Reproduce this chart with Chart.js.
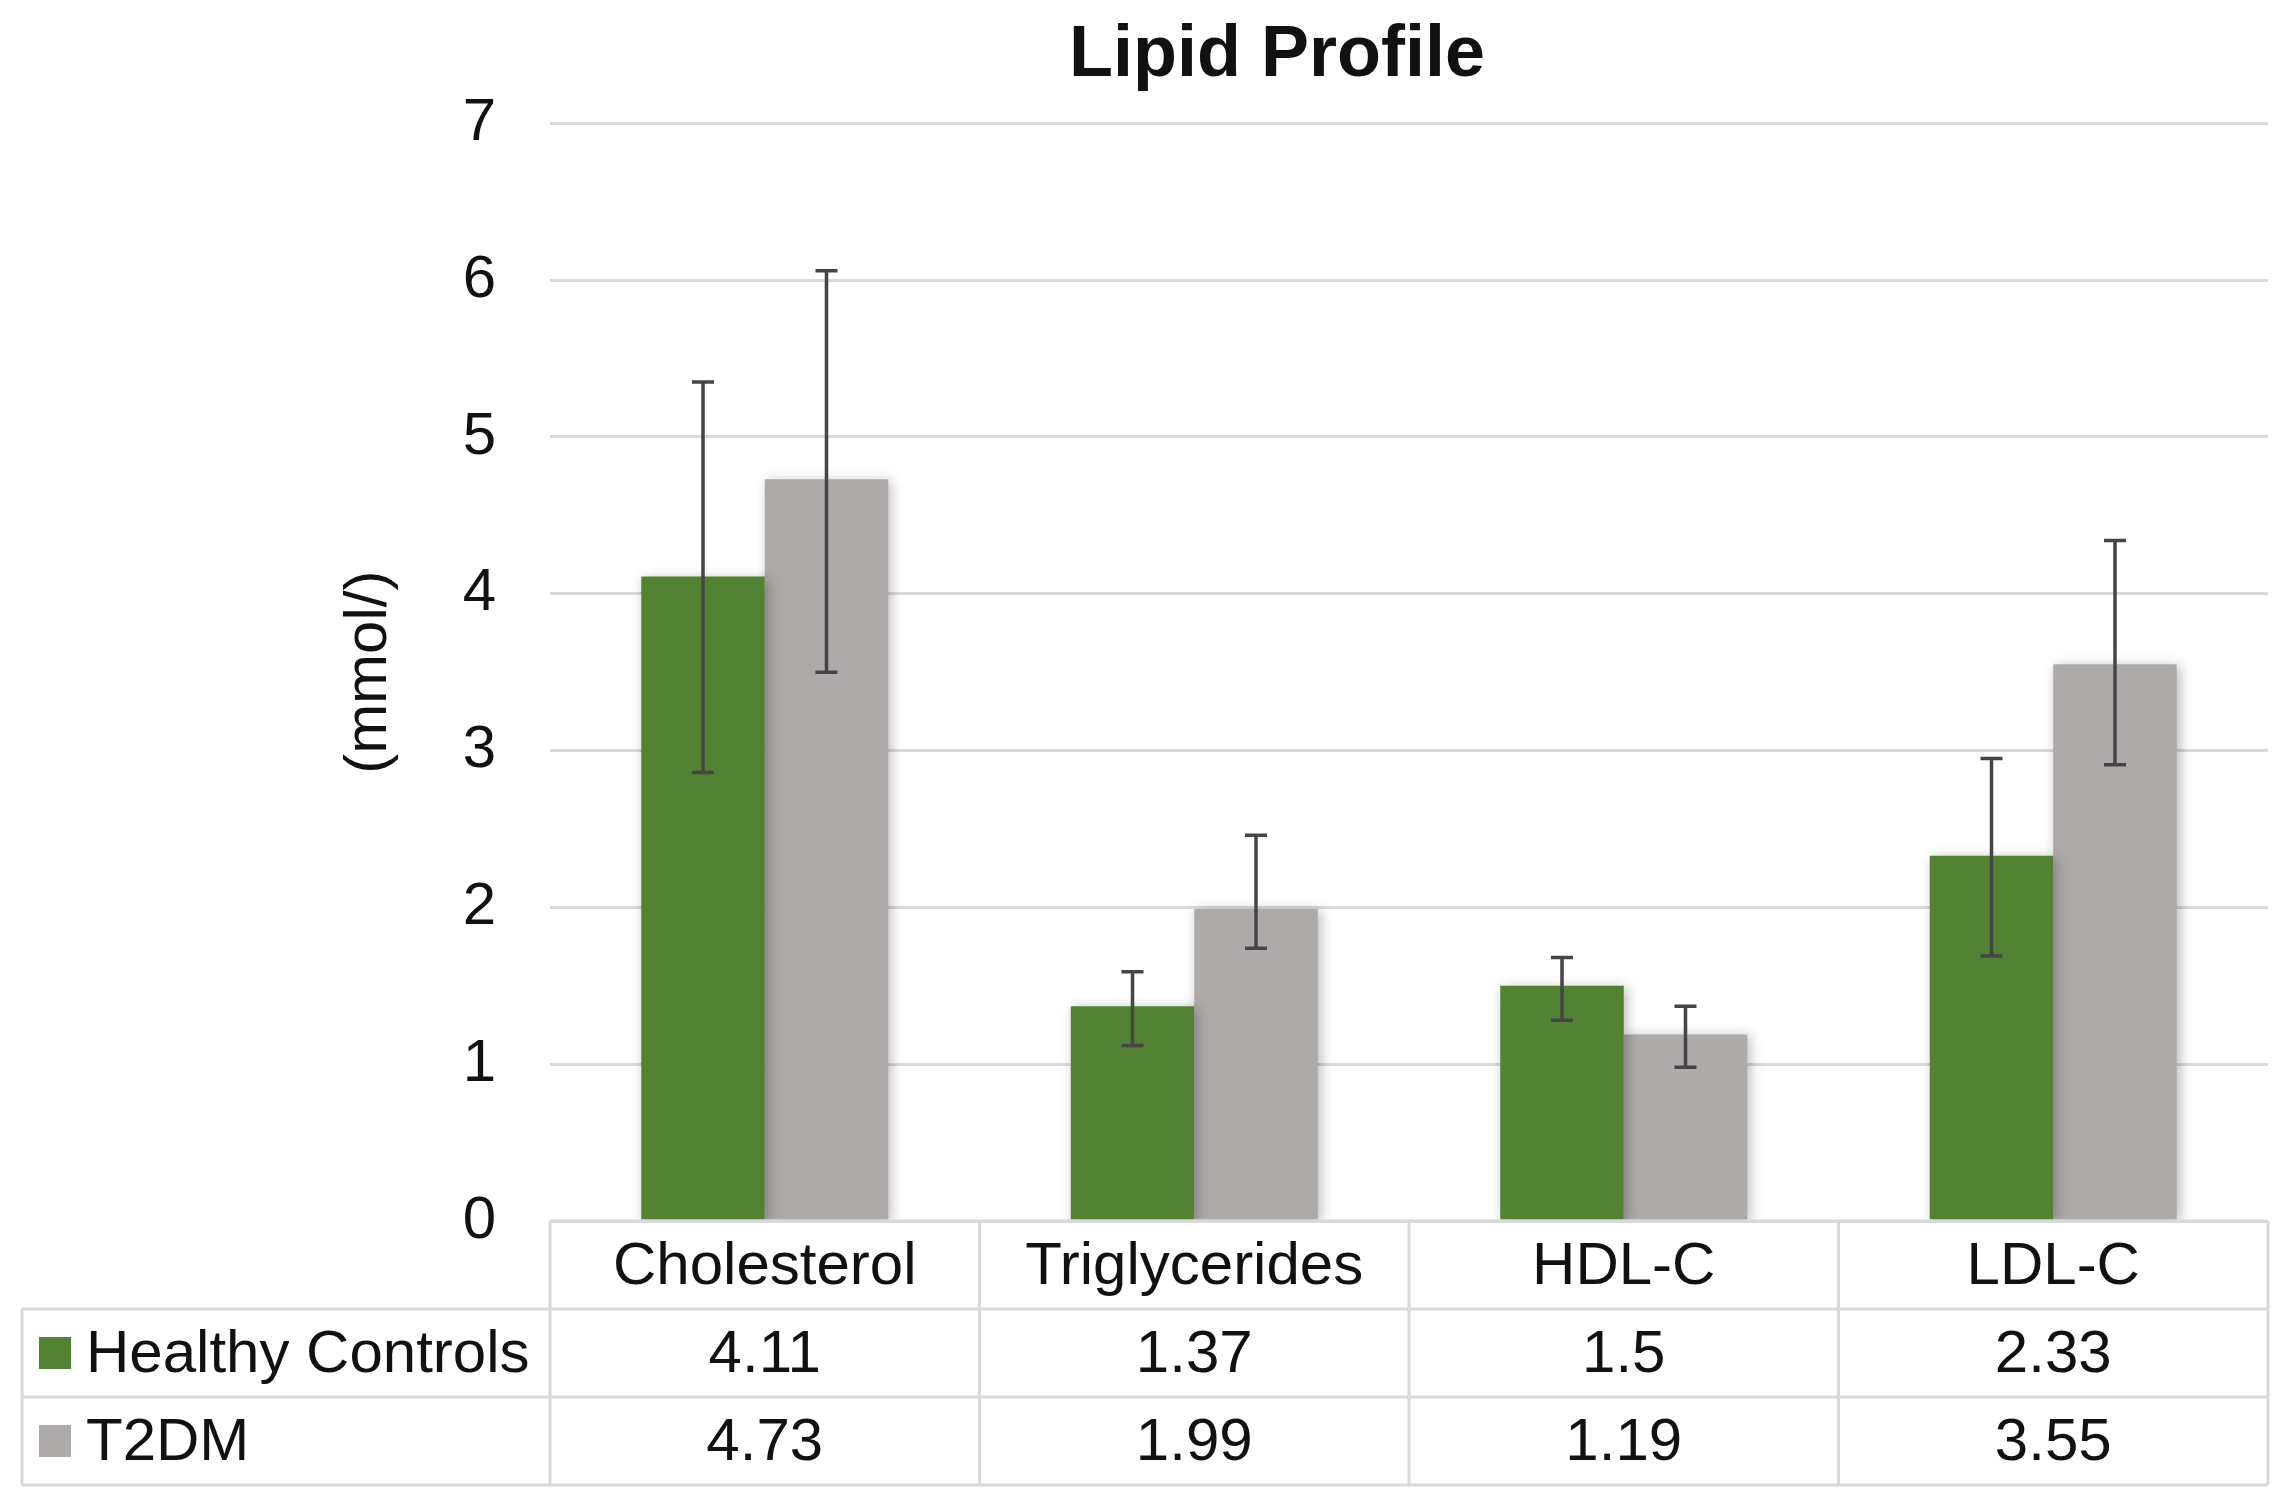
<!DOCTYPE html>
<html>
<head>
<meta charset="utf-8">
<script src="https://cdn.jsdelivr.net/npm/chart.js@4/dist/chart.umd.min.js"></script>
<style>
    body { margin: 0; background: #fff; }
    .chart-container { position: relative; width: 2287px; height: 1506px; }
</style>
</head>
<body>
<div class="chart-container">
    <canvas id="lipidChart"></canvas>
</div>
<script>
// values
const categories = ['Cholesterol', 'Triglycerides', 'HDL-C', 'LDL-C'];
const seriesNames = ['Healthy Controls', 'T2DM'];
const healthyValues = [4.11, 1.37, 1.5, 2.33];
const t2dmValues = [4.73, 1.99, 1.19, 3.55];
// error bar extents (upper / lower), estimated from the caps
const healthyErrPlus = [1.24, 0.22, 0.18, 0.62];
const healthyErrMinus = [1.25, 0.25, 0.22, 0.64];
const t2dmErrPlus = [1.33, 0.47, 0.18, 0.79];
const t2dmErrMinus = [1.23, 0.25, 0.21, 0.64];
const yTicks = [0, 1, 2, 3, 4, 5, 6, 7];

const FONT = '"Liberation Sans", Arial, sans-serif';
const TEXT = '#111';
const LINE = '#d9d9d9';
const GREEN = '#548235';
const GREY = '#aeaaaa';
const ROW_H = 88;
const LABEL_COL = 528;

const errorBars = {
    id: 'errorBars',
    beforeDatasetsDraw(chart) {
        const ctx = chart.ctx;
        ctx.save();
        ctx.shadowColor = 'rgba(0,0,0,0.28)';
        ctx.shadowBlur = 12;
        ctx.shadowOffsetX = 3;
        ctx.shadowOffsetY = 2;
    },
    afterDatasetsDraw(chart) {
        const ctx = chart.ctx;
        ctx.restore();
        const y = chart.scales.y;
        ctx.save();
        ctx.strokeStyle = '#454545';
        ctx.lineWidth = 3.5;
        chart.data.datasets.forEach((ds, di) => {
            const meta = chart.getDatasetMeta(di);
            meta.data.forEach((bar, i) => {
                const top = y.getPixelForValue(ds.data[i] + ds.errPlus[i]);
                const bot = y.getPixelForValue(ds.data[i] - ds.errMinus[i]);
                ctx.beginPath();
                ctx.moveTo(bar.x, top);
                ctx.lineTo(bar.x, bot);
                ctx.moveTo(bar.x - 11, top);
                ctx.lineTo(bar.x + 11, top);
                ctx.moveTo(bar.x - 11, bot);
                ctx.lineTo(bar.x + 11, bot);
                ctx.stroke();
            });
        });
        ctx.restore();
    }
};

const dataTable = {
    id: 'dataTable',
    afterDraw(chart) {
        const ctx = chart.ctx;
        const area = chart.chartArea;
        const x = chart.scales.x;
        const colW = (area.right - area.left) / categories.length;
        const tableLeft = area.left - LABEL_COL;
        const top = area.bottom;
        const rows = [top, top + ROW_H, top + ROW_H * 2, top + ROW_H * 3];

        ctx.save();
        ctx.strokeStyle = LINE;
        ctx.lineWidth = 3;
        ctx.beginPath();
        // horizontal lines
        ctx.moveTo(area.left, rows[0]); ctx.lineTo(area.right, rows[0]);
        for (let r = 1; r < rows.length; r++) {
            ctx.moveTo(tableLeft, rows[r]);
            ctx.lineTo(area.right, rows[r]);
        }
        // vertical lines
        ctx.moveTo(tableLeft, rows[1]); ctx.lineTo(tableLeft, rows[3]);
        for (let c = 0; c <= categories.length; c++) {
            const cx = area.left + c * colW;
            ctx.moveTo(cx, rows[0]);
            ctx.lineTo(cx, rows[3]);
        }
        ctx.stroke();

        ctx.font = '60px ' + FONT;
        ctx.fillStyle = TEXT;
        ctx.textBaseline = 'middle';
        chart.data.datasets.forEach((ds, di) => {
            const cy = rows[di + 1] + ROW_H / 2;
            // legend key + name
            ctx.fillStyle = ds.backgroundColor;
            ctx.fillRect(tableLeft + 17, cy - 16, 32, 32);
            ctx.fillStyle = TEXT;
            ctx.textAlign = 'left';
            ctx.fillText(ds.label, tableLeft + 64, cy + 2);
            ctx.textAlign = 'center';
            ds.data.forEach((v, i) => {
                ctx.fillText(String(v), x.getPixelForValue(i), cy + 2);
            });
        });
        ctx.restore();
    }
};

new Chart(document.getElementById('lipidChart'), {
    type: 'bar',
    data: {
        labels: categories,
        datasets: [{
            label: seriesNames[0],
            data: healthyValues,
            errPlus: healthyErrPlus,
            errMinus: healthyErrMinus,
            backgroundColor: GREEN
        }, {
            label: seriesNames[1],
            data: t2dmValues,
            errPlus: t2dmErrPlus,
            errMinus: t2dmErrMinus,
            backgroundColor: GREY
        }]
    },
    options: {
        responsive: true,
        maintainAspectRatio: false,
        devicePixelRatio: 1,
        animation: false,
        categoryPercentage: 0.575,
        barPercentage: 1,
        layout: { padding: { left: 286, right: 19, top: 0, bottom: 21 } },
        plugins: {
            legend: { display: false },
            tooltip: { enabled: false },
            title: {
                display: true,
                text: 'Lipid Profile',
                color: TEXT,
                font: { family: FONT, size: 72, weight: 'bold' },
                padding: { top: 13, bottom: 24 }
            }
        },
        scales: {
            x: {
                grid: { display: false, drawTicks: false },
                border: { display: false },
                ticks: { color: TEXT, font: { family: FONT, size: 60 }, padding: 10, maxRotation: 0 },
                afterFit: scale => { scale.height = ROW_H * 3; }
            },
            y: {
                min: yTicks[0],
                max: yTicks[yTicks.length - 1],
                afterBuildTicks: scale => { scale.ticks = yTicks.map(v => ({ value: v })); },
                grid: { color: LINE, lineWidth: 3, drawTicks: false },
                border: { display: false },
                ticks: { color: TEXT, font: { family: FONT, size: 60 }, padding: 54 },
                title: {
                    display: true,
                    text: '(mmol/)',
                    color: TEXT,
                    font: { family: FONT, size: 60 },
                    padding: { top: 47, bottom: 0 }
                },
                afterFit: scale => { scale.width = 264; }
            }
        }
    },
    plugins: [errorBars, dataTable]
});
</script>
</body>
</html>
